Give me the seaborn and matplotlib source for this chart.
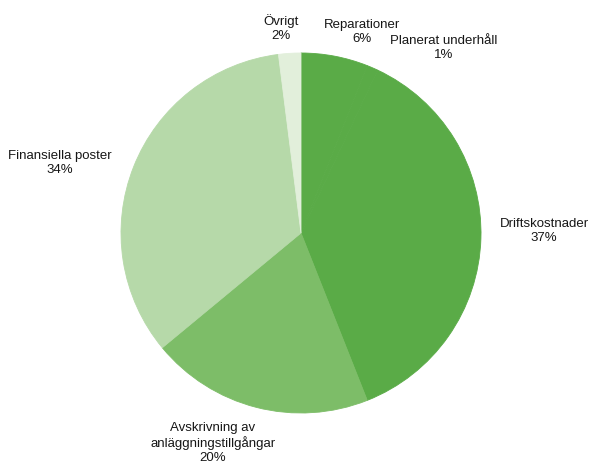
import numpy as np
import seaborn as sns
import matplotlib
matplotlib.use("Agg")
import matplotlib.pyplot as plt

sns.set_theme(style="white")
plt.rcParams['font.family'] = ['Liberation Sans', 'DejaVu Sans']

# slices clockwise from 12 o'clock
labels = ["Reparationer", "Planerat underhåll", "Driftskostnader",
          "Avskrivning av\nanläggningstillgångar", "Finansiella poster", "Övrigt"]
shares = [6, 1, 37, 20, 34, 2]

colors = ["#5aab47", "#5aab47", "#5aab47", "#7dbd68", "#b6d9a9", "#e2efdb"]
# label centres, in units of pie radius (text placement only)
label_pos = [(0.34, 1.115), (0.79, 1.03), (1.35, 0.01),
             (-0.49, -1.165), (-1.34, 0.39), (-0.11, 1.14)]

fig = plt.figure(figsize=(5.94, 4.67), dpi=100)
ax = fig.add_axes([0, 0, 1, 1])
wedges, _ = ax.pie(shares, colors=colors, startangle=90, counterclock=False,
                   radius=1)
for w, c in zip(wedges, colors):
    w.set_edgecolor(c)
    w.set_linewidth(0.6)
for lab, val, (x, y) in zip(labels, shares, label_pos):
    ax.text(x, y, f"{lab}\n{val}%", ha="center", va="center",
            fontsize=9.5, color="#161616", linespacing=1.2)

ax.set_xlim(-301 / 180, 293 / 180)
ax.set_ylim(-234 / 180, 233 / 180)
ax.axis("off")
fig.savefig("out.png", dpi=100)
